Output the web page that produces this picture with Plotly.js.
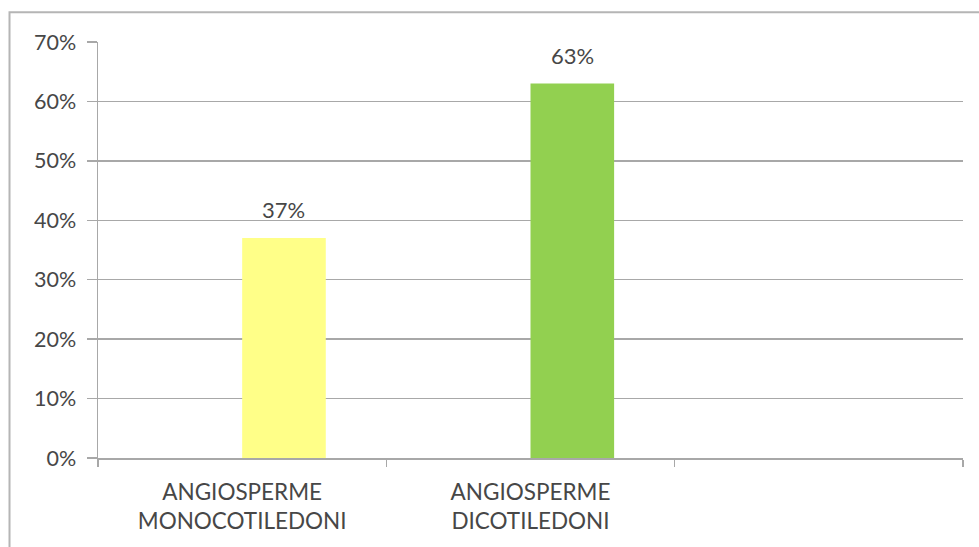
<!DOCTYPE html>
<html>
<head>
<meta charset="utf-8">
<script src="https://cdn.plot.ly/plotly-3.0.1.min.js"></script>
<style>
html,body{margin:0;padding:0;background:#fff;}
#chart{width:979px;height:547px;}
</style>
</head>
<body>
<div id="chart"></div>
<script>
// Data
const categories = ["ANGIOSPERME<br>MONOCOTILEDONI", "ANGIOSPERME<br>DICOTILEDONI", " "];
const values = [0.37, 0.63, null];
const barColors = ["#FFFF88", "#92D050", "#92D050"];
const yTickVals = [0, 0.1, 0.2, 0.3, 0.4, 0.5, 0.6, 0.7];
const yTickText = ["0%", "10%", "20%", "30%", "40%", "50%", "60%", "70%"];

const BAR_OFFSET = 0;
const BAR_WIDTH = 0.29;
const FONT = "Lato, 'Open Sans', sans-serif";
const TXT = "#474747";
const GRID = "#a8a8a8";

const trace = {
  type: "bar",
  x: categories,
  y: values,
  offset: BAR_OFFSET,
  width: BAR_WIDTH,
  marker: {color: barColors, line: {width: 0}},
  hoverinfo: "none"
};

const annotations = [];
values.forEach((v, i) => {
  if (v === null) return;
  annotations.push({
    x: i + BAR_OFFSET + BAR_WIDTH / 2,
    y: v,
    xref: "x", yref: "y",
    text: Math.round(v * 100) + "%",
    showarrow: false,
    yanchor: "bottom",
    yshift: 13,
    font: {family: FONT, size: 22, color: TXT}
  });
});

const layout = {
  width: 979,
  height: 547,
  margin: {l: 98, r: 16, t: 42, b: 89},
  paper_bgcolor: "#ffffff",
  plot_bgcolor: "#ffffff",
  showlegend: false,
  font: {family: FONT, size: 22, color: TXT},
  xaxis: {
    type: "category",
    categoryorder: "array",
    categoryarray: categories,
    range: [-0.5, 2.5],
    showline: true,
    linecolor: GRID,
    linewidth: 1.5,
    ticks: "outside",
    tickson: "boundaries",
    ticklen: 7,
    tickcolor: GRID,
    tickwidth: 1.5,
    showgrid: false,
    zeroline: false,
    ticklabelstandoff: 13,
    tickfont: {family: FONT, size: 22.5, color: TXT}
  },
  yaxis: {
    range: [0, 0.7],
    tickvals: yTickVals,
    ticktext: yTickText,
    showline: true,
    linecolor: GRID,
    linewidth: 1.5,
    ticks: "outside",
    ticklen: 10,
    tickcolor: GRID,
    tickwidth: 1.5,
    showgrid: true,
    gridcolor: GRID,
    gridwidth: 1.5,
    zeroline: false,
    ticklabelstandoff: 6,
    tickfont: {family: FONT, size: 21.5, color: TXT}
  },
  annotations: annotations,
  shapes: [{
    type: "rect",
    xref: "paper", yref: "paper",
    x0: -0.1023, x1: 1.02, y0: -0.3, y1: 1.0713,
    line: {color: "#b5b5b5", width: 2},
    fillcolor: "rgba(0,0,0,0)",
    layer: "below"
  }]
};

Plotly.newPlot("chart", [trace], layout, {displayModeBar: false, staticPlot: true});
</script>
</body>
</html>
